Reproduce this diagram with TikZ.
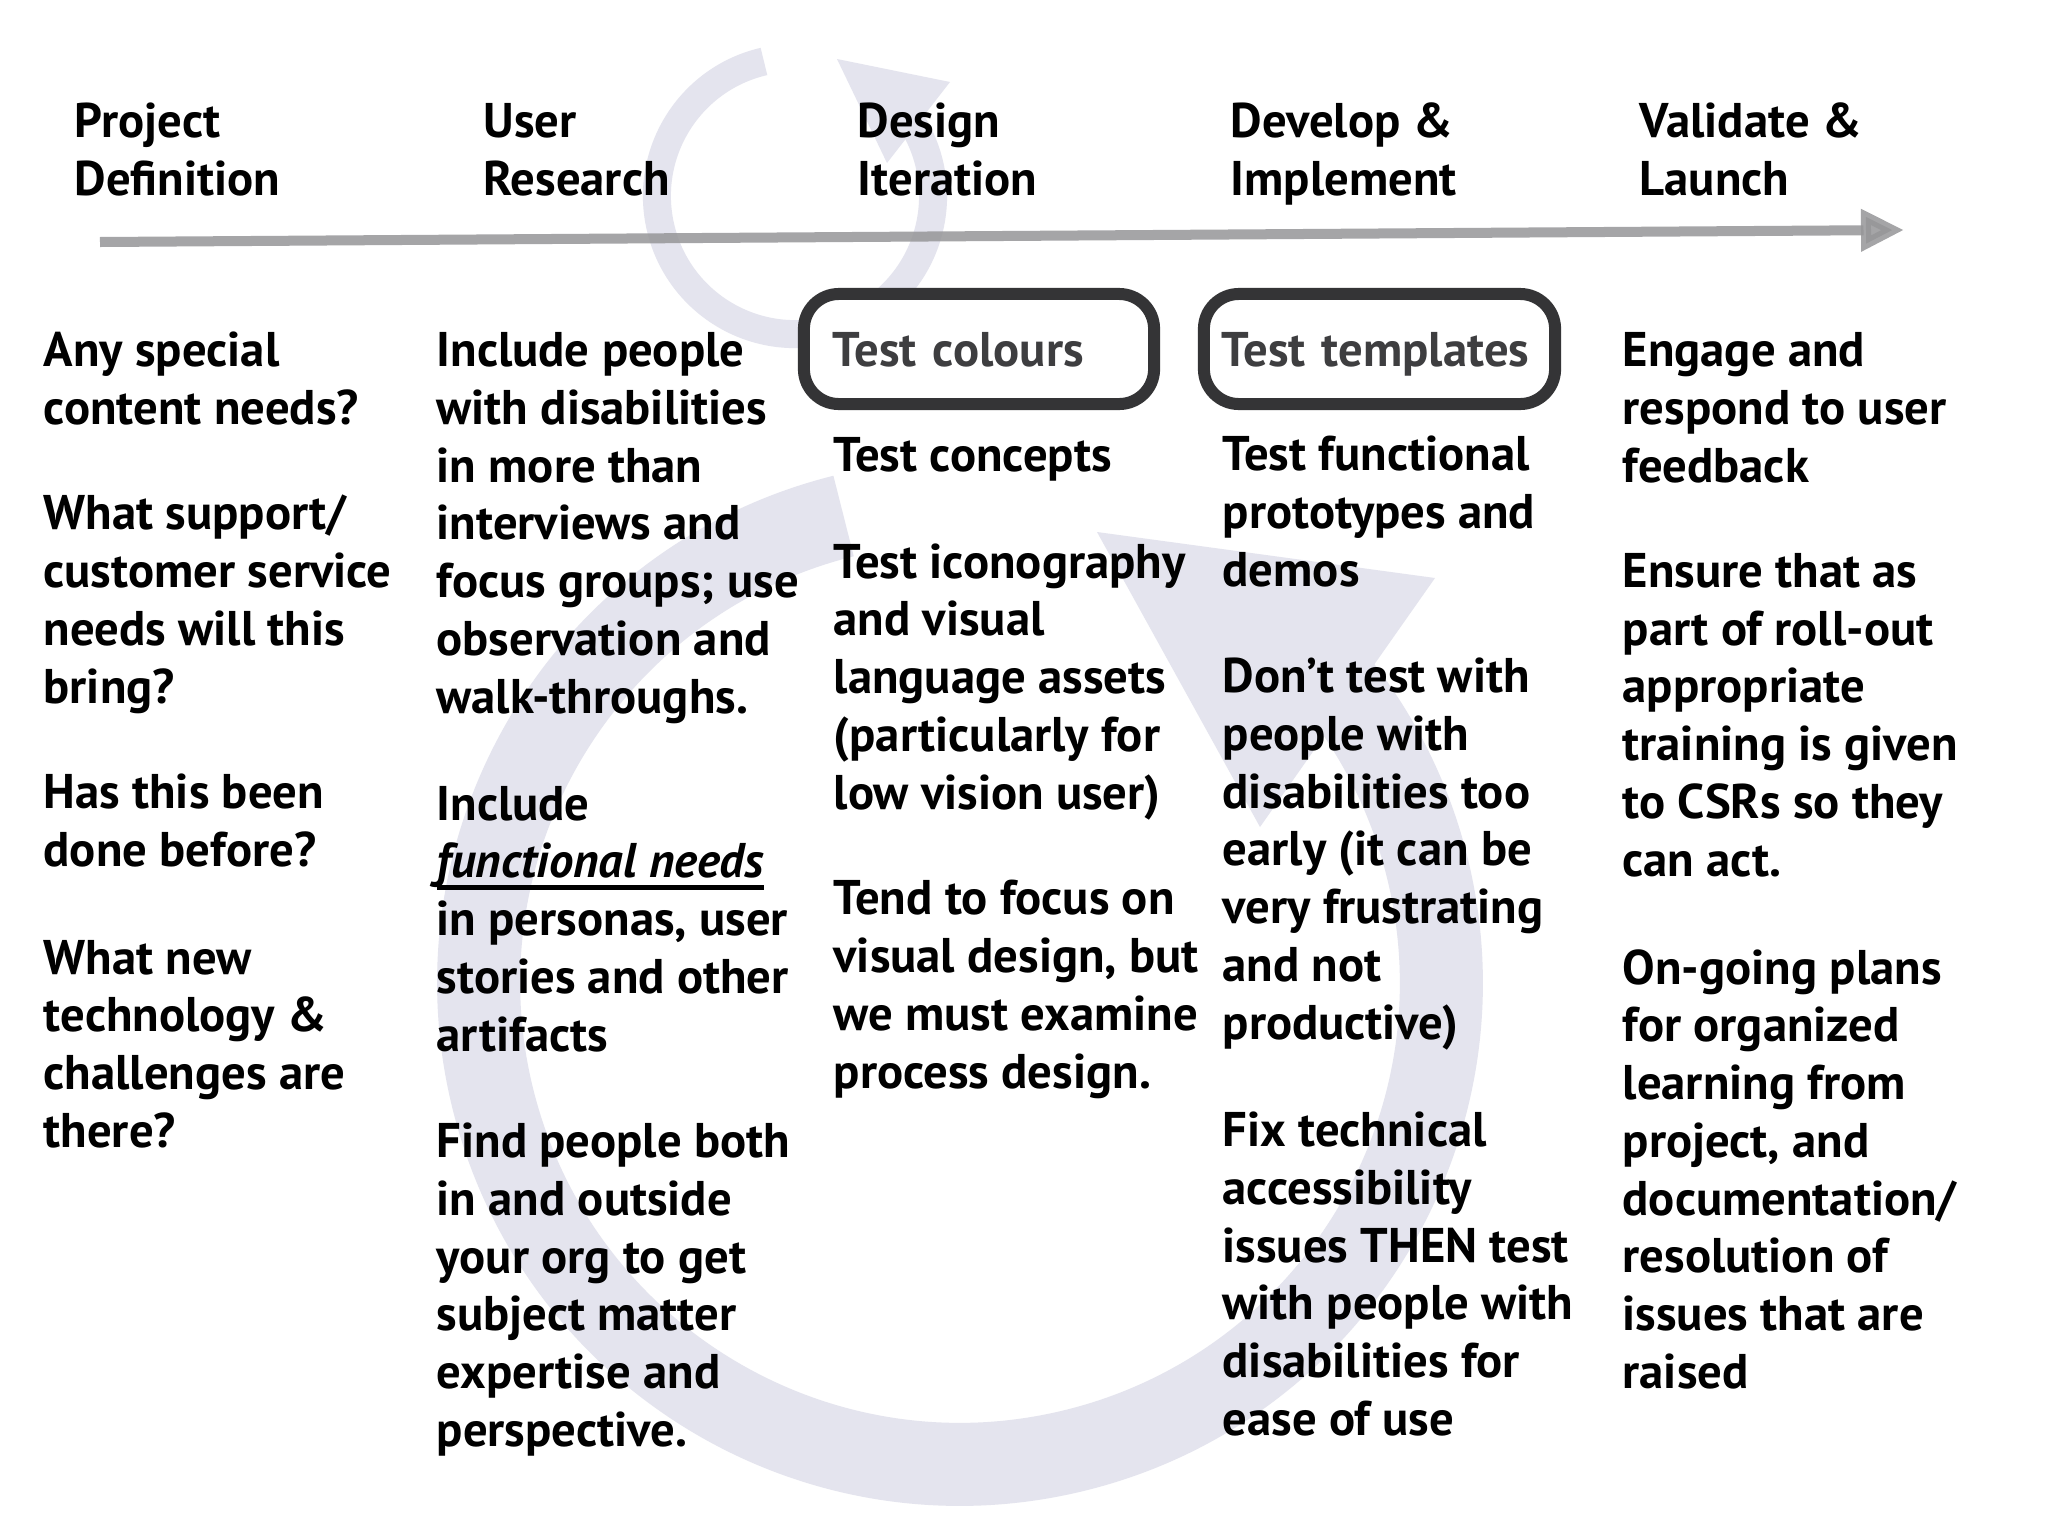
\documentclass[tikz,border=0pt]{standalone}
\usepackage{fontspec}
\setmainfont{PT Sans}
\usetikzlibrary{arrows.meta}

\definecolor{cyclefill}{RGB}{228,228,238}
\definecolor{timeline}{RGB}{150,150,152}
\definecolor{boxline}{RGB}{52,52,54}
\definecolor{boxtext}{RGB}{62,62,64}

\newcommand{\ulword}[1]{\setbox0\hbox{#1}\rlap{\rule[-0.12cm]{\wd0}{1.3pt}}\box0}

\tikzset{
  phase/.style={anchor=base west, inner sep=0pt, align=left,
    font=\fontsize{13.85pt}{16.4pt}\selectfont\bfseries},
  note/.style={phase},
  testbox/.style={draw=boxline, line width=0.12cm, rounded corners=0.35cm,
    fill=white, text=boxtext, align=left, minimum height=1.1cm,
    text height=0.34cm, text depth=0pt,
    font=\fontsize{13.85pt}{16.4pt}\selectfont\bfseries},
  cycleband/.style={draw=cyclefill, line cap=butt},
  timeline arrow/.style={draw=timeline, opacity=0.85, line width=0.1cm,
    -{Triangle[length=0.43cm, width=0.4cm]}}
}

\begin{document}
\begin{tikzpicture}[x=0.01cm, y=-0.01cm]

\fill[white] (0,0) rectangle (2048,1536);
\useasboundingbox (0,0) rectangle (2048,1536);

% iteration cycles
\coordinate (bigc) at (960,983);
\draw[cycleband, line width=0.83cm] (bigc) ++(104:4.81cm)
  arc[start angle=104, end angle=400, radius=4.81cm];
\fill[cyclefill] (1097,532) -- (1435,578) -- (1260,827) -- cycle;

\coordinate (smallc) at (795,196);
\draw[cycleband, line width=0.28cm] (smallc) ++(103:1.38cm)
  arc[start angle=103, end angle=396, radius=1.38cm];
\fill[cyclefill] (837,59) -- (950,82) -- (887,163) -- cycle;

% timeline
\coordinate (tstart) at (100,242);
\coordinate (tend) at (1904,230);
\draw[timeline arrow] (tstart) -- (tend);

% phases (nodes sit on the baseline of their last line)
\node[phase] (definition) at (74,195) {Project\\Definition};
\node[phase] (research) at (483,195) {User\\Research};
\node[phase] (design) at (857,195) {Design\\Iteration};
\node[phase] (develop) at (1230,195) {Develop \&\\Implement};
\node[phase] (launch) at (1639,195) {Validate \&\\Launch};

% project definition
\node[note] (defn1) at (43,424) {Any special\\content needs?};
\node[note] (defn2) at (43,703) {What support/\\customer service\\needs will this\\bring?};
\node[note] (defn3) at (43,866) {Has this been\\done before?};
\node[note] (defn4) at (43,1147) {What new\\technology \&\\challenges are\\there?};

% user research
\node[note] (res1) at (436,713) {Include people\\with disabilities\\in more than\\interviews and\\focus groups; use\\observation and\\walk-throughs.};
\node[note] (res2) at (436,1051) {Include\\\ulword{\textit{functional needs}}\\in personas, user\\stories and other\\artifacts};
\node[note] (res3) at (436,1446) {Find people both\\in and outside\\your org to get\\subject matter\\expertise and\\perspective.};

% design iteration
\node[testbox, minimum width=3.5cm, text width=2.92cm, inner xsep=0.29cm] (colours) at (979,349) {Test colours};
\node[note] (des1) at (833,471) {Test concepts};
\node[note] (des2) at (833,809) {Test iconography\\and visual\\language assets\\(particularly for\\low vision user)};
\node[note] (des3) at (833,1088) {Tend to focus on\\visual design, but\\we must examine\\process design.};

% develop & implement
\node[testbox, minimum width=3.51cm, text width=3.15cm, inner xsep=0.18cm] (templates) at (1379.5,349) {Test templates};
\node[note] (dev1) at (1222,586) {Test functional\\prototypes and\\demos};
\node[note] (dev2) at (1222,1039) {Don’t test with\\people with\\disabilities too\\early (it can be\\very frustrating\\and not\\productive)};
\node[note] (dev3) at (1222,1435) {Fix technical\\accessibility\\issues THEN test\\with people with\\disabilities for\\ease of use};

% validate & launch
\node[note] (lau1) at (1622,482) {Engage and\\respond to user\\feedback};
\node[note] (lau2) at (1622,876) {Ensure that as\\part of roll-out\\appropriate\\training is given\\to CSRs so they\\can act.};
\node[note] (lau3) at (1622,1388) {On-going plans\\for organized\\learning from\\project, and\\documentation/\\resolution of\\issues that are\\raised};

\end{tikzpicture}
\end{document}
